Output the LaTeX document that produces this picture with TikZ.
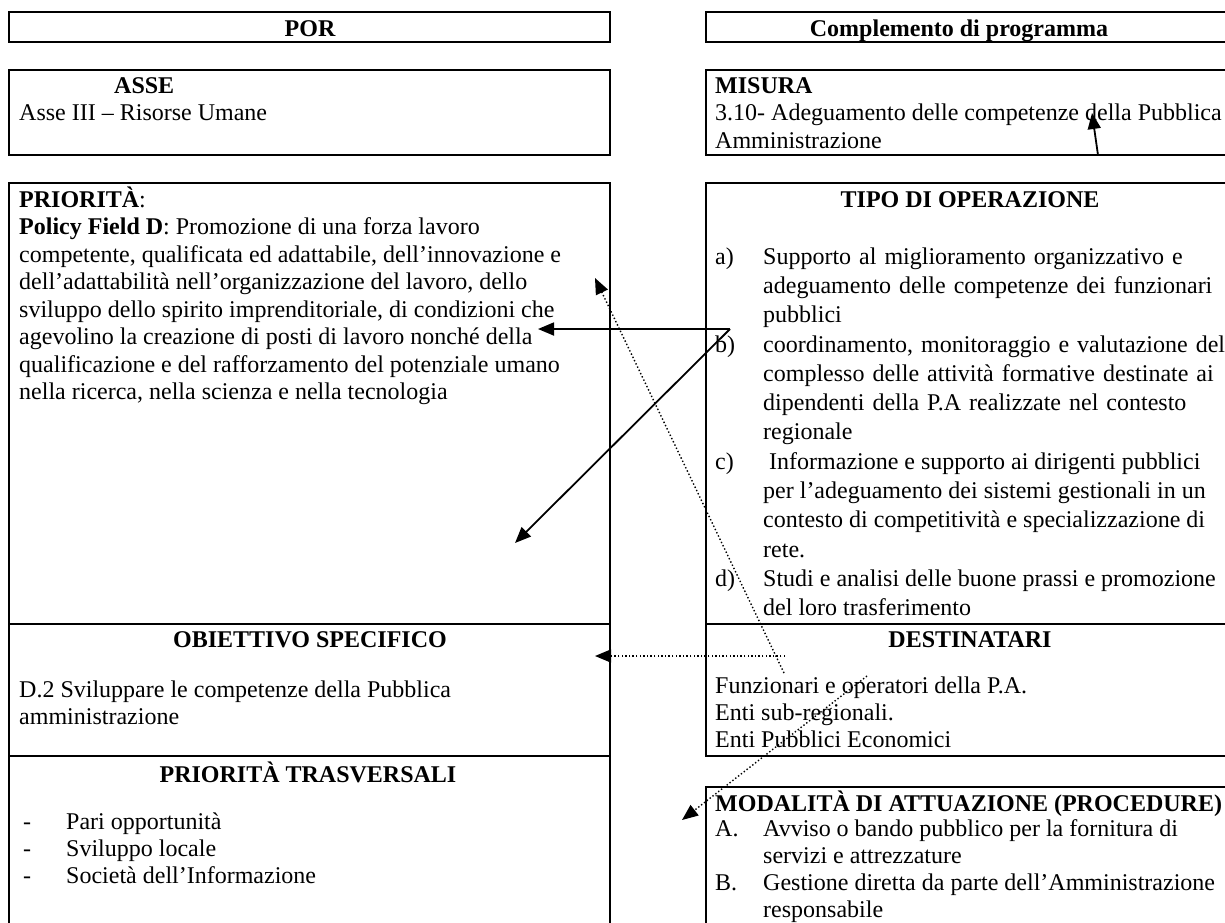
\documentclass[tikz,border=0pt]{standalone}
\usepackage{fontspec}
\setmainfont{Liberation Serif}
\usetikzlibrary{arrows.meta}

\begin{document}
\begin{tikzpicture}[x=1pt,y=-1pt]
\tikzstyle{every node}=[inner sep=0pt, font=\fontsize{24}{27.6}\selectfont]
\tikzstyle{panel}=[draw, line width=2.2pt, outer sep=0pt, anchor=north west]
\tikzstyle{head}=[font=\fontsize{24}{27.6}\selectfont\bfseries, anchor=base]
% multi-line body: base anchor sits on the last line
\tikzstyle{body}=[anchor=base west, align=left]
\tikzstyle{wide}=[anchor=base west, align=left, text width=#1]
\tikzstyle{every edge}=[draw, ->, >={Triangle[length=16pt,width=13pt]}, line width=1.8pt]
\tikzstyle{hint}=[line width=1.4pt, dash pattern=on 1.4pt off 2.2pt]

\clip (0,0) rectangle (1225,922);
\fill[white] (0,0) rectangle (1225,922);

% POR side
\node[panel, minimum width=601, minimum height=30] (por) at (9,12) {};
\node[panel, minimum width=601, minimum height=85] (asse) at (9,70) {};
\node[panel, minimum width=601, minimum height=441] (prio) at (9,183) {};
\node[panel, minimum width=601, minimum height=132] (obiet) at (9,624) {};
\node[panel, minimum width=601, minimum height=200] (trasv) at (9,756) {};

% Complemento side
\node[panel, minimum width=540, minimum height=30] (compl) at (706,12) {};
\node[panel, minimum width=540, minimum height=85] (misura) at (706,70) {};
\node[panel, minimum width=540, minimum height=441] (tipo) at (706,183) {};
\node[panel, minimum width=540, minimum height=132] (dest) at (706,624) {};
\node[panel, minimum width=540, minimum height=200] (modal) at (706,787) {};

\node[head] (porT) at (310,36) {POR};
\node[head] (complT) at (959,36) {Complemento di programma};

\node[head, anchor=base west] (asseT) at (114,93) {ASSE};
\node[body] (asseB) at (19,120.5) {Asse III – Risorse Umane};
\node[head, anchor=base west] (misT) at (715,93) {MISURA};
\node[body, font=\fontsize{24}{27.5}\selectfont] (misB) at (715,148)
  {3.10- Adeguamento delle competenze della Pubblica\\Amministrazione};

\node[body, font=\fontsize{24}{27.5}\selectfont] (prioB) at (19,399.5)
  {\textbf{PRIORITÀ}:\\
   \textbf{Policy Field D}: Promozione di una forza lavoro\\
   competente, qualificata ed adattabile, dell’innovazione e\\
   dell’adattabilità nell’organizzazione del lavoro, dello\\
   sviluppo dello spirito imprenditoriale, di condizioni che\\
   agevolino la creazione di posti di lavoro nonché della\\
   qualificazione e del rafforzamento del potenziale umano\\
   nella ricerca, nella scienza e nella tecnologia};

\node[head] (tipoT) at (970,207) {TIPO DI OPERAZIONE};
\node[body] (lblA) at (715,264) {a)};
\node[wide=459, font=\fontsize{24}{29.3}\selectfont] (opA) at (763,264)
  {\makebox[\linewidth][s]{Supporto al miglioramento organizzativo e}\\
   \makebox[\linewidth][s]{adeguamento delle competenze dei funzionari}\\
   pubblici};
\node[body] (lblB) at (715,352) {b)};
\node[wide=459, font=\fontsize{24}{29.3}\selectfont] (opB) at (763,352)
  {\makebox[\linewidth][s]{coordinamento, monitoraggio e valutazione del}\\
   \makebox[\linewidth][s]{complesso delle attività formative destinate ai}\\
   \makebox[\linewidth][s]{dipendenti della P.A realizzate nel contesto}\\
   regionale};
\node[body] (lblC) at (715,469.2) {c)};
\node[body, font=\fontsize{24}{29.3}\selectfont] (opC) at (763,557.1)
  {\ Informazione e supporto ai dirigenti pubblici\\
   per l’adeguamento dei sistemi gestionali in un\\
   contesto di competitività e specializzazione di\\
   rete.};
\node[body] (lblD) at (715,586.4) {d)};
\node[body, font=\fontsize{24}{29.3}\selectfont] (opD) at (763,615.7)
  {Studi e analisi delle buone prassi e promozione\\
   del loro trasferimento};

\node[head] (obT) at (310,647) {OBIETTIVO SPECIFICO};
\node[body, font=\fontsize{24}{27.5}\selectfont] (obB) at (19,724.5)
  {D.2 Sviluppare le competenze della Pubblica\\amministrazione};
\node[head] (destT) at (970,647) {DESTINATARI};
\node[body, font=\fontsize{24}{27}\selectfont] (destB) at (715,747)
  {Funzionari e operatori della P.A.\\Enti sub-regionali.\\Enti Pubblici Economici};

\node[head] (trT) at (308,782) {PRIORITÀ TRASVERSALI};
\node[body, font=\fontsize{24}{27}\selectfont] (trDash) at (23,883) {-\\-\\-};
\node[body, font=\fontsize{24}{27}\selectfont] (trB) at (66,883)
  {Pari opportunità\\Sviluppo locale\\Società dell’Informazione};

\node[head, anchor=base west] (modT) at (715,811) {MODALITÀ DI ATTUAZIONE (PROCEDURE)};
\node[body] (lblMA) at (715,836) {A.};
\node[body, font=\fontsize{24}{27}\selectfont] (modA) at (763,863)
  {Avviso o bando pubblico per la fornitura di\\servizi e attrezzature};
\node[body] (lblMB) at (715,890) {B.};
\node[body, font=\fontsize{24}{27}\selectfont] (modB) at (763,917)
  {Gestione diretta da parte dell’Amministrazione\\responsabile};

% arrow ends
\coordinate (fromA) at (730,329);
\coordinate (toPrio) at (538,329);
\coordinate (toPrioLow) at (515,543);
\coordinate (misFoot) at (1098,155);
\coordinate (misTip) at (1092,113);
\coordinate (destUp) at (784,673);
\coordinate (prioTip) at (595,278);
\coordinate (destLeft) at (785,656);
\coordinate (obTip) at (595,656);
\coordinate (destDown) at (867,676);
\coordinate (modTip) at (682,820);

\draw (fromA) edge (toPrio) edge (toPrioLow);
\draw (misFoot) edge (misTip);
\draw (destUp) edge[hint] (prioTip)
      (destLeft) edge[hint] (obTip)
      (destDown) edge[hint] (modTip);
\end{tikzpicture}
\end{document}
